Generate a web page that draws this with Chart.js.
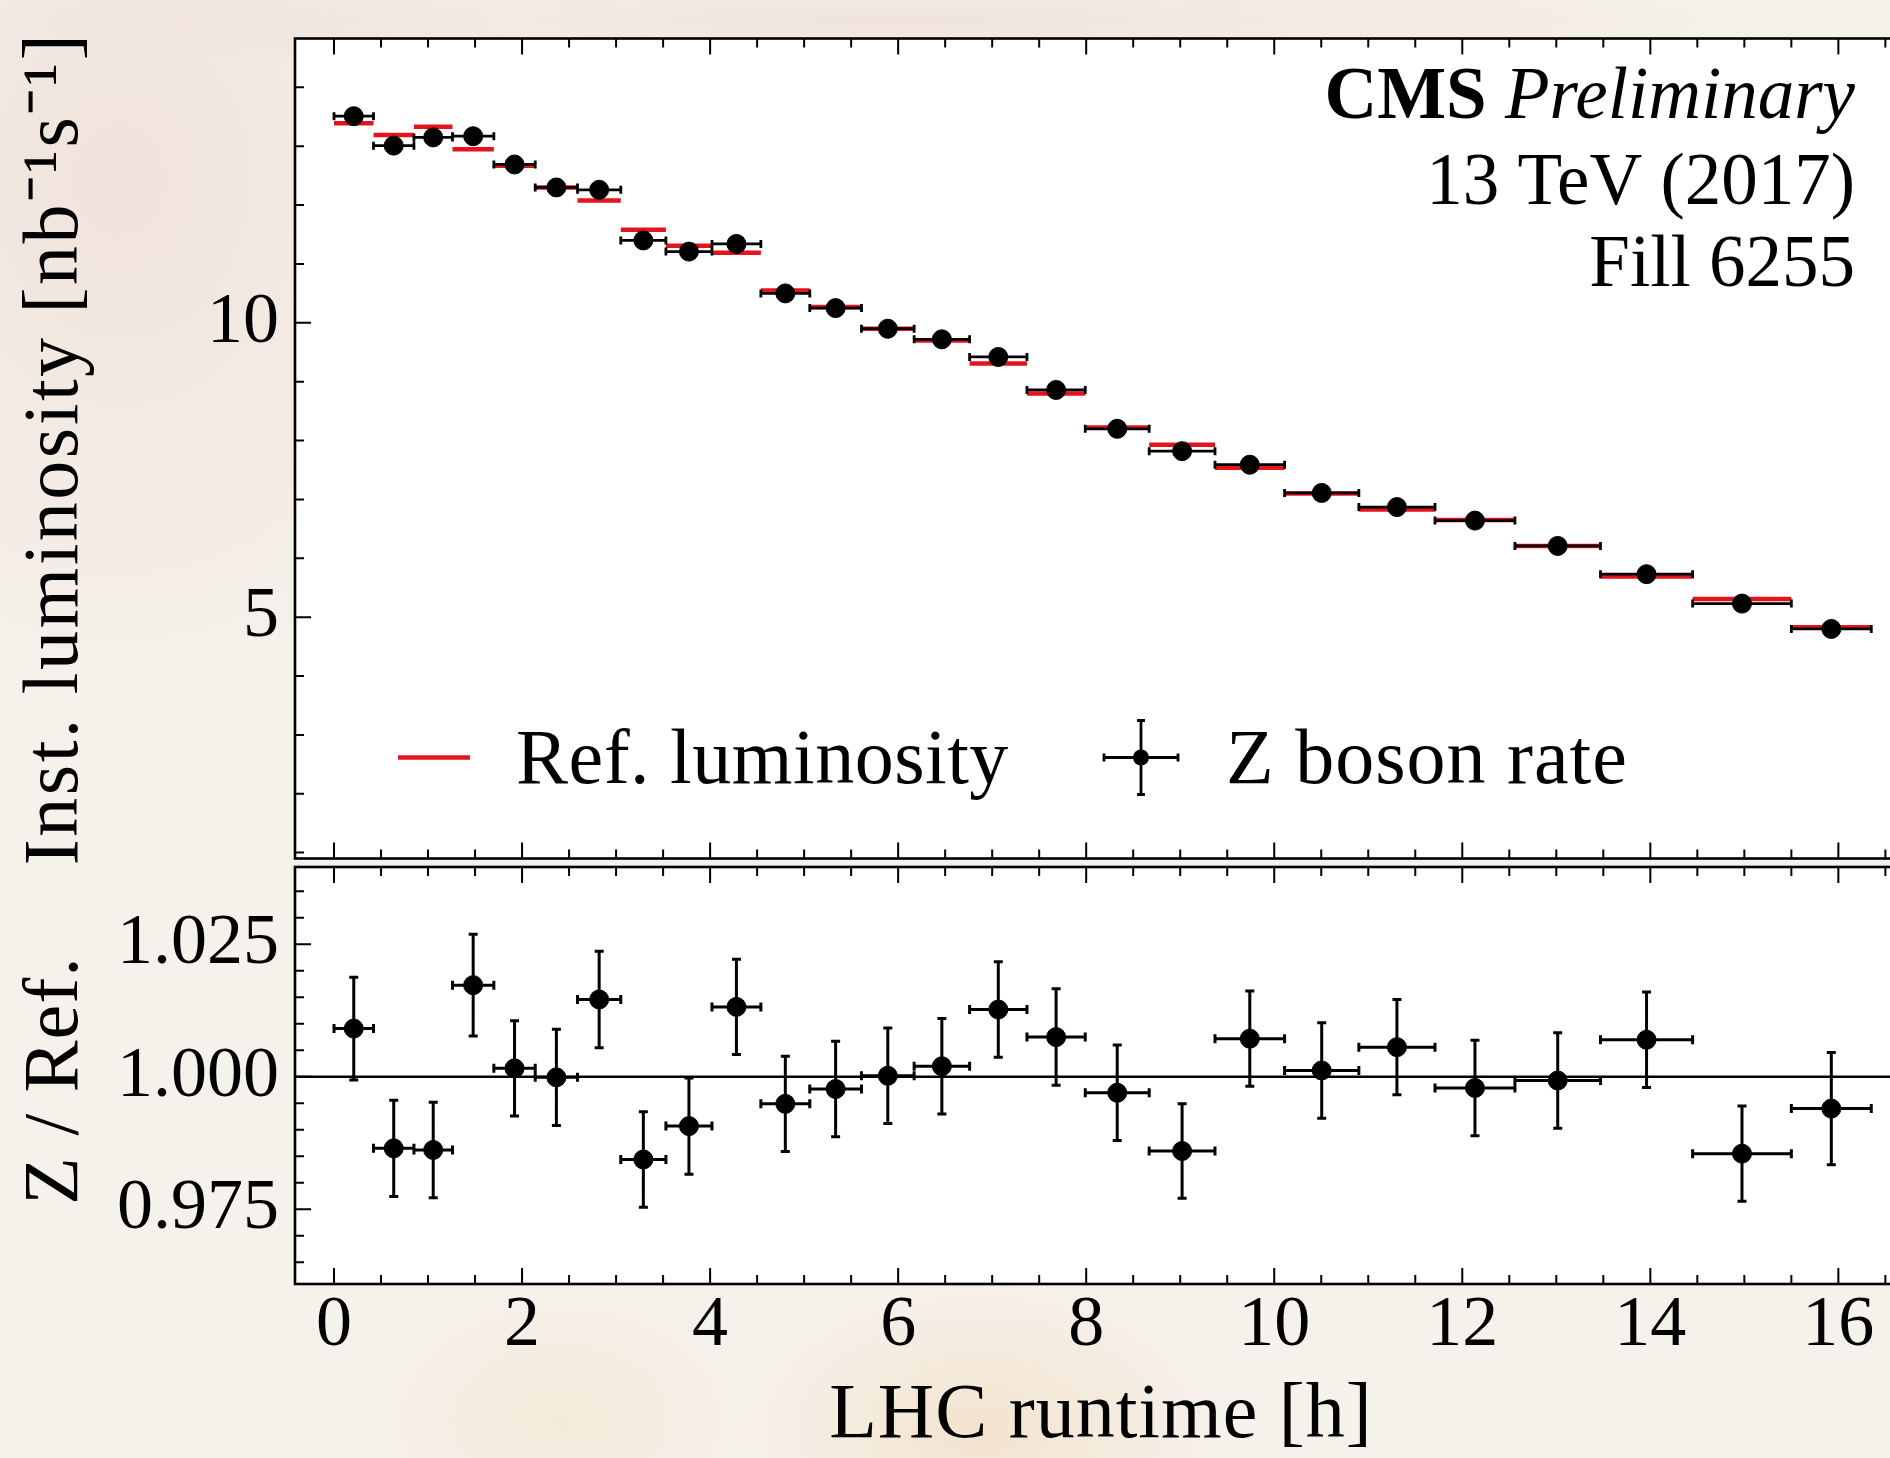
<!DOCTYPE html>
<html>
<head>
<meta charset="utf-8">
<script src="https://cdn.jsdelivr.net/npm/chart.js@4.4.1/dist/chart.umd.min.js"></script>
<style>
html, body { margin: 0; padding: 0; width: 1890px; height: 1458px; overflow: hidden; }
body {
  position: relative;
  background-color: #f5f1eb;
  background-image:
    radial-gradient(ellipse 420px 520px at 120px 180px, rgba(226,186,172,0.25), rgba(226,186,172,0) 100%),
    radial-gradient(ellipse 900px 60px at 900px 20px, rgba(226,190,176,0.25), rgba(226,190,176,0) 100%),
    radial-gradient(ellipse 240px 150px at 980px 1430px, rgba(240,196,140,0.30), rgba(240,196,140,0) 100%),
    radial-gradient(ellipse 200px 140px at 560px 1420px, rgba(240,205,150,0.20), rgba(240,205,150,0) 100%);
}
canvas { position: absolute; left: 0; top: 0; }
</style>
</head>
<body>
<canvas id="cTop" width="1920" height="869"></canvas>
<canvas id="cBot" width="1920" height="1458"></canvas>
<script>
// ---------------- data ----------------
const binEdges = [0, 0.42, 0.85, 1.26, 1.70, 2.14, 2.59, 3.05, 3.53, 4.02, 4.54, 5.06, 5.61, 6.17,
                  6.76, 7.37, 7.99, 8.67, 9.37, 10.11, 10.90, 11.71, 12.56, 13.47, 14.45, 15.50, 16.35];
const zRate   = [13.51, 13.01, 13.15, 13.17, 12.69, 12.30, 12.26, 11.40, 11.21, 11.34, 10.50, 10.25, 9.90,
                 9.72, 9.42, 8.86, 8.20, 7.82, 7.59, 7.11, 6.87, 6.64, 6.21, 5.73, 5.23, 4.80];
const refLumi = [13.39, 13.19, 13.33, 12.95, 12.67, 12.30, 12.08, 11.58, 11.31, 11.19, 10.55, 10.27, 9.90,
                 9.70, 9.31, 8.80, 8.22, 7.93, 7.54, 7.10, 6.83, 6.65, 6.21, 5.69, 5.31, 4.83];
const ratio    = [1.0091, 0.9865, 0.9862, 1.0173, 1.0016, 0.9999, 1.0146, 0.9844, 0.9907, 1.0132, 0.9949, 0.9977, 1.0002,
                  1.0020, 1.0127, 1.0075, 0.9970, 0.9860, 1.0072, 1.0012, 1.0056, 0.9979, 0.9993, 1.0070, 0.9855, 0.9940];
const ratioErr = [0.0097, 0.0091, 0.0090, 0.0096, 0.0090, 0.0091, 0.0091, 0.0090, 0.0091, 0.0090, 0.0090, 0.0090, 0.0090,
                  0.0090, 0.0090, 0.0091, 0.0090, 0.0089, 0.0090, 0.0090, 0.0090, 0.0090, 0.0090, 0.0090, 0.0090, 0.0106];

const xTicks = [0, 2, 4, 6, 8, 10, 12, 14, 16];
const xTickLabels = ['0', '2', '4', '6', '8', '10', '12', '14', '16'];
const lumiTicks = [5, 10];
const lumiTickLabels = ['5', '10'];
const ratioTicks = [0.975, 1.000, 1.025];
const ratioTickLabels = ['0.975', '1.000', '1.025'];

const seriesNames = ['Ref. luminosity', 'Z boson rate'];
const textLines = ['13 TeV (2017)', 'Fill 6255'];
const xTitle = 'LHC runtime [h]';

// ---------------- styling ----------------
const FONT = "'Liberation Serif', 'Times New Roman', serif";
const RED = '#e3141c';
const X_MIN = -0.415, X_MAX = 16.73;
const Y_MIN = 0.90, Y_MAX = 14.83;
const R_MIN = 0.9609, R_MAX = 1.0396;
const MARKER = 9.5;
Chart.defaults.font.family = FONT;
Chart.defaults.color = '#000';

const centers = binEdges.slice(0, -1).map((e, i) => (e + binEdges[i + 1]) / 2);

// reference luminosity as horizontal segments (gaps break the line)
const refSegments = [];
refLumi.forEach((v, i) => {
  refSegments.push({ x: binEdges[i], y: v });
  refSegments.push({ x: binEdges[i + 1], y: v });
  refSegments.push({ x: binEdges[i + 1], y: null });
});
const zPoints = zRate.map((v, i) => ({ x: centers[i], y: v }));
const ratioPoints = ratio.map((v, i) => ({ x: centers[i], y: v }));

// ---------------- helper plugins ----------------
const whiteArea = {
  id: 'whiteArea',
  beforeDraw(chart) {
    const { ctx, chartArea: a } = chart;
    ctx.save();
    ctx.fillStyle = '#ffffff';
    ctx.fillRect(a.left, a.top, a.right - a.left, a.bottom - a.top);
    ctx.restore();
    // axis titles: wider letter spacing (approximates the wider original serif) and a small offset
    Object.values(chart.scales).forEach(s => {
      if (s._styled) return;
      const orig = s.drawTitle.bind(s);
      s.drawTitle = function () {
        const c = this.ctx;
        const t = this.options.title || {};
        const shift = t.shift || [0, 0];
        c.save();
        c.letterSpacing = t.spacing || '0px';
        c.translate(shift[0], shift[1]);
        orig();
        c.restore();
      };
      s._styled = true;
    });
  }
};

function noPad(s) { s.paddingTop = 0; s.paddingBottom = 0; s.paddingLeft = 0; s.paddingRight = 0; }

function drawFrameTicks(chart, yStep, yKmin, yKmax, yMajorEvery) {
  const { ctx, chartArea: a, scales: { x, y } } = chart;
  ctx.save();
  ctx.strokeStyle = '#000';
  ctx.lineWidth = 2;
  ctx.beginPath();
  for (let k = -1; k <= 34; k++) {
    const v = k * 0.5;
    if (v < X_MIN || v > X_MAX) continue;
    const px = x.getPixelForValue(v);
    const len = (k % 4 === 0) ? 16 : 9;
    ctx.moveTo(px, a.top); ctx.lineTo(px, a.top + len);
    ctx.moveTo(px, a.bottom); ctx.lineTo(px, a.bottom - len);
  }
  for (let k = yKmin; k <= yKmax; k++) {
    const v = k * yStep;
    const py = y.getPixelForValue(v);
    if (py < a.top || py > a.bottom) continue;
    const len = (k % yMajorEvery === 0) ? 16 : 9;
    ctx.moveTo(a.left, py); ctx.lineTo(a.left + len, py);
  }
  ctx.stroke();
  ctx.lineWidth = 2.6;
  ctx.strokeRect(a.left, a.top, a.right - a.left, a.bottom - a.top);
  ctx.restore();
}

function hBar(ctx, x0, x1, py, cap) {
  ctx.moveTo(x0, py); ctx.lineTo(x1, py);
  ctx.moveTo(x0, py - cap); ctx.lineTo(x0, py + cap);
  ctx.moveTo(x1, py - cap); ctx.lineTo(x1, py + cap);
}
function vBar(ctx, px, y0, y1, cap) {
  ctx.moveTo(px, y0); ctx.lineTo(px, y1);
  ctx.moveTo(px - cap, y0); ctx.lineTo(px + cap, y0);
  ctx.moveTo(px - cap, y1); ctx.lineTo(px + cap, y1);
}

const topPlugin = {
  id: 'topPanel',
  beforeDatasetDraw(chart, args) {
    if (args.index !== 1) return;
    const { ctx, scales: { x, y } } = chart;
    ctx.save();
    ctx.strokeStyle = '#000';
    ctx.lineWidth = 2.8;
    ctx.beginPath();
    zRate.forEach((v, i) => {
      hBar(ctx, x.getPixelForValue(binEdges[i]), x.getPixelForValue(binEdges[i + 1]), y.getPixelForValue(v), 4);
    });
    ctx.stroke();
    ctx.restore();
  },
  afterDraw(chart) {
    drawFrameTicks(chart, 1, 1, 14, 5);
    const { ctx, chartArea: a } = chart;
    ctx.save();
    ctx.fillStyle = '#000';
    // experiment label, right aligned
    const right = a.right - 52;
    ctx.textBaseline = 'alphabetic';
    ctx.font = `italic 73px ${FONT}`;
    const wPre = ctx.measureText('Preliminary').width;
    ctx.textAlign = 'right';
    ctx.fillText('Preliminary', right, a.top + 79);
    ctx.font = `bold 73px ${FONT}`;
    ctx.fillText('CMS ', right - wPre, a.top + 79);
    ctx.font = `73px ${FONT}`;
    ctx.fillText(textLines[0], right, a.top + 165);
    ctx.fillText(textLines[1], right, a.top + 247);
    // legend
    const ly = a.top + 719;
    ctx.strokeStyle = RED;
    ctx.lineWidth = 4.5;
    ctx.beginPath(); ctx.moveTo(a.left + 103, ly); ctx.lineTo(a.left + 175, ly); ctx.stroke();
    ctx.textAlign = 'left';
    ctx.letterSpacing = '0.5px';
    ctx.font = `78px ${FONT}`;
    ctx.fillText(seriesNames[0], a.left + 221, ly + 25);
    const sx = a.left + 846;
    ctx.strokeStyle = '#000';
    ctx.lineWidth = 2.8;
    ctx.beginPath();
    hBar(ctx, sx - 37, sx + 37, ly, 4);
    vBar(ctx, sx, ly - 37, ly + 37, 4);
    ctx.stroke();
    ctx.beginPath(); ctx.arc(sx, ly, 8, 0, Math.PI * 2); ctx.fill();
    ctx.letterSpacing = '1px';
    ctx.fillText(seriesNames[1], a.left + 931, ly + 25);
    ctx.letterSpacing = '0px';
    ctx.restore();
  }
};

const botPlugin = {
  id: 'botPanel',
  beforeDatasetsDraw(chart) {
    const { ctx, chartArea: a, scales: { y } } = chart;
    ctx.save();
    ctx.strokeStyle = '#000';
    ctx.lineWidth = 2.6;
    const py = y.getPixelForValue(1);
    ctx.beginPath(); ctx.moveTo(a.left, py); ctx.lineTo(a.right, py); ctx.stroke();
    ctx.restore();
  },
  beforeDatasetDraw(chart, args) {
    if (args.index !== 0) return;
    const { ctx, scales: { x, y } } = chart;
    ctx.save();
    ctx.strokeStyle = '#000';
    ctx.lineWidth = 3;
    ctx.beginPath();
    ratio.forEach((v, i) => {
      const py = y.getPixelForValue(v);
      hBar(ctx, x.getPixelForValue(binEdges[i]), x.getPixelForValue(binEdges[i + 1]), py, 4.5);
      vBar(ctx, x.getPixelForValue(centers[i]), y.getPixelForValue(v + ratioErr[i]), y.getPixelForValue(v - ratioErr[i]), 4.5);
    });
    ctx.stroke();
    ctx.restore();
  },
  afterDraw(chart) {
    drawFrameTicks(chart, 0.005, 192, 208, 5);
    // x-axis title, centred under the plot area
    const { ctx, chartArea: a } = chart;
    ctx.save();
    ctx.fillStyle = '#000';
    ctx.font = `78px ${FONT}`;
    ctx.letterSpacing = '1px';
    ctx.textAlign = 'center';
    ctx.textBaseline = 'alphabetic';
    ctx.fillText(xTitle, (a.left + a.right) / 2, a.bottom + 153);
    ctx.letterSpacing = '0px';
    ctx.restore();
  }
};

// ---------------- top panel ----------------
new Chart(document.getElementById('cTop'), {
  type: 'scatter',
  data: {
    datasets: [
      { type: 'line', label: seriesNames[0], data: refSegments, borderColor: RED, borderWidth: 4.5,
        pointRadius: 0, spanGaps: false, fill: false, order: 1 },
      { type: 'scatter', label: seriesNames[1], data: zPoints, backgroundColor: '#000', borderColor: '#000',
        pointRadius: MARKER, pointHoverRadius: MARKER, order: 0 }
    ]
  },
  options: {
    responsive: false, animation: false, events: [],
    layout: { padding: { top: 38.5, bottom: 2, left: 0, right: 13 } },
    plugins: { legend: { display: false }, tooltip: { enabled: false } },
    scales: {
      x: { type: 'linear', min: X_MIN, max: X_MAX, display: false },
      y: {
        type: 'linear', min: Y_MIN, max: Y_MAX,
        grid: { display: false, drawTicks: false }, border: { display: false },
        afterBuildTicks: s => { s.ticks = lumiTicks.map(v => ({ value: v })); },
        afterFit: s => { s.width = 295; noPad(s); },
        ticks: { padding: 16, font: { size: 72 }, color: '#000',
                 callback: v => lumiTickLabels[lumiTicks.indexOf(v)] },
        title: { display: true, text: 'Inst. luminosity [nb⁻¹s⁻¹]', color: '#000', spacing: '2.5px', shift: [0, 0],
                 font: { size: 78 }, padding: { top: 10, bottom: 0 } }
      }
    }
  },
  plugins: [whiteArea, topPlugin]
});

// ---------------- ratio panel ----------------
new Chart(document.getElementById('cBot'), {
  type: 'scatter',
  data: {
    datasets: [
      { label: 'Z / Ref.', data: ratioPoints, backgroundColor: '#000', borderColor: '#000',
        pointRadius: MARKER, pointHoverRadius: MARKER }
    ]
  },
  options: {
    responsive: false, animation: false, events: [],
    layout: { padding: { top: 867, bottom: 0, left: 0, right: 13 } },
    plugins: { legend: { display: false }, tooltip: { enabled: false } },
    scales: {
      x: {
        type: 'linear', min: X_MIN, max: X_MAX,
        grid: { display: false, drawTicks: false }, border: { display: false },
        afterBuildTicks: s => { s.ticks = xTicks.map(v => ({ value: v })); },
        afterFit: s => { s.height = 174; noPad(s); },
        ticks: { padding: 6, font: { size: 72, lineHeight: 1.0 }, color: '#000', maxRotation: 0, autoSkip: false,
                 callback: v => xTickLabels[xTicks.indexOf(v)] },
        title: { display: false }
      },
      y: {
        type: 'linear', min: R_MIN, max: R_MAX,
        grid: { display: false, drawTicks: false }, border: { display: false },
        afterBuildTicks: s => { s.ticks = ratioTicks.map(v => ({ value: v })); },
        afterFit: s => { s.width = 295; noPad(s); },
        ticks: { padding: 16, font: { size: 72 }, color: '#000',
                 callback: v => ratioTickLabels[ratioTicks.indexOf(v)] },
        title: { display: true, text: 'Z / Ref.', color: '#000', spacing: '1px', shift: [0, 5],
                 font: { size: 78 }, padding: { top: 10, bottom: 0 } }
      }
    }
  },
  plugins: [whiteArea, botPlugin]
});
</script>
</body>
</html>
